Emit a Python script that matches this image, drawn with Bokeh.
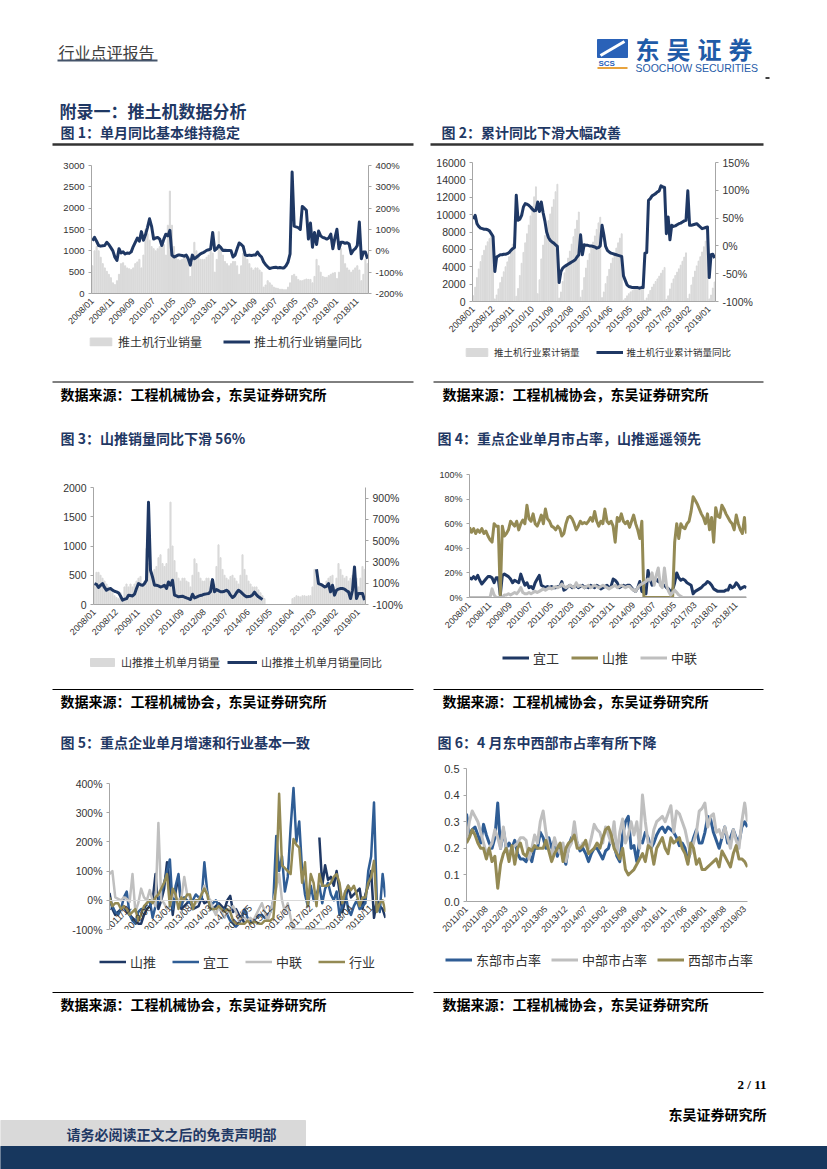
import math
from bokeh.plotting import figure
from bokeh.models import Range1d, LinearAxis, FixedTicker, PrintfTickFormatter, Legend, LegendItem
from bokeh.layouts import column, row
from bokeh.embed import file_html
from bokeh.resources import INLINE
from bokeh.core.properties import value

nan = float("nan")

# ---------------- DATA ----------------
labels_10 = ["2008/01", "2008/11", "2009/09", "2010/07", "2011/05", "2012/03", "2013/01",
             "2013/11", "2014/09", "2015/07", "2016/05", "2017/03", "2018/01", "2018/11"]
labels_11 = ["2008/01", "2008/12", "2009/11", "2010/10", "2011/09", "2012/08", "2013/07",
             "2014/06", "2015/05", "2016/04", "2017/03", "2018/02", "2019/01"]
labels_c5 = ["2011/04", "2011/11", "2012/06", "2013/01", "2013/08", "2014/03", "2014/10",
             "2015/05", "2015/12", "2016/07", "2017/02", "2017/09", "2018/04", "2018/11"]
labels_c6 = ["2011/01", "2011/08", "2012/03", "2012/10", "2013/05", "2013/12", "2014/07", "2015/02",
             "2015/09", "2016/04", "2016/11", "2017/06", "2018/01", "2018/08", "2019/03"]

# Chart 1: industry monthly sales (units) and YoY (%)
c1_sales = [650, 1000, 1100, 1000, 850, 700, 600, 520, 450, 370, 250, 210,
            300, 450, 700, 720, 650, 600, 580, 560, 600, 700, 740, 800,
            600, 900, 1500, 1400, 1250, 1100, 1050, 1000, 1050, 1100, 1100, 1150,
            900, 1600, 2400, 1600, 1100, 900, 800, 780, 800, 850, 900, 870,
            400, 700, 1200, 1000, 900, 800, 800, 800, 850, 900, 1000, 950,
            500, 800, 1450, 1100, 900, 750, 700, 650, 700, 750, 750, 650,
            450, 650, 950, 850, 800, 700, 600, 550, 600, 600, 550, 500,
            150, 200, 300, 250, 200, 150, 130, 120, 100, 100, 90, 90,
            150, 250, 420, 450, 400, 330, 300, 300, 320, 340, 330, 330,
            250, 400, 800, 650, 500, 400, 380, 380, 420, 450, 480, 490,
            350, 500, 1050, 900, 700, 600, 550, 500, 550, 600, 650, 550,
            300, 450, 800, 700]
c1_yoy = [47, 63, 45, 25, 22, 24, 25, 40, 30, 15, 0, -30,
          -45, 10, -10, -5, -15, -10, -12, -5, 20, 40, 60, 45,
          90, 50, 75, 110, 150, 115, 55, 60, 63, 55, 25, 55,
          78, 70, 96, -20, -29, -25, -20, -20, -22, -25, -20, -37,
          -67, -20, -37, -30, -22, -14, -10, -5, 2, 5, 9, 86,
          2, 10, 25, 15, 2, 3, 2, 2, 0, -29, -20, 10,
          37, 30, 20, -20, -22, -20, -22, -20, -20, -6, -20, -29,
          -52, -65, -75, -83, -80, -78, -77, -80, -78, -80, -80, -70,
          -52, -14, 369, 116, 112, 109, 100, 208, 200, 190, 55, 130,
          17, 86, 30, 93, 70, 63, 60, 55, 60, 78, 10, 60,
          101, 10, 40, 40, 35, 38, 32, -14, 2, 10, 25, 135,
          -37, -6, -6, -37]

# Chart 2: cumulative sales (units) and cumulative YoY (%)
c2_cum = [650, 1650, 2750, 3750, 4600, 5300, 5900, 6420, 6870, 7240, 7490, 7700,
          300, 750, 1450, 2170, 2820, 3420, 4000, 4560, 5160, 5860, 6600, 7400,
          600, 1500, 3000, 4400, 5650, 6750, 7800, 8800, 9850, 10950, 12050, 13200,
          900, 2500, 4900, 6500, 7600, 8500, 9300, 10080, 10880, 11730, 12630, 13500,
          400, 1100, 2300, 3300, 4200, 5000, 5800, 6600, 7450, 8350, 9350, 10300,
          500, 1300, 2750, 3850, 4750, 5500, 6200, 6850, 7550, 8300, 9050, 9700,
          450, 1100, 2050, 2900, 3700, 4400, 5000, 5550, 6150, 6750, 7300, 7800,
          150, 350, 650, 900, 1100, 1250, 1380, 1500, 1600, 1700, 1790, 1880,
          150, 400, 820, 1270, 1670, 2000, 2300, 2600, 2920, 3260, 3590, 3920,
          250, 650, 1450, 2100, 2600, 3000, 3380, 3760, 4180, 4630, 5110, 5600,
          350, 850, 1900, 2800, 3500, 4100, 4650, 5150, 5700, 6300, 6950, 7500,
          300, 750, 1550, 2250]
c2_yoy = [48, 55, 40, 35, 32, 31, 30, 30, 29, 27, 22, 17,
          -46, -20, -18, -16, -16, -15, -15, -14, -12, -8, -5, -3,
          91, 46, 48, 55, 70, 76, 75, 73, 70, 66, 63, 64,
          79, 62, 79, 60, 45, 25, 15, 10, 7, 5, 2, -1,
          -66, -46, -40, -37, -35, -33, -31, -29, -27, -25, -20, -16,
          20, -16, 2, 1, 1, 0, 0, -1, -2, -4, -3, 0,
          37, 20, -1, -8, -11, -13, -14, -15, -16, -17, -18, -19,
          -54, -62, -70, -73, -74, -75, -75, -75, -75, -76, -75, -75,
          -13, -12, 82, 85, 90, 92, 94, 97, 99, 108, 106, 105,
          22, 52, 11, 37, 35, 36, 38, 40, 41, 43, 45, 46,
          99, 37, 37, 38, 39, 40, 37, 34, 31, 32, 33, 34,
          -57, -16, -15, -22]

# Chart 3: Shantui monthly sales (units) and YoY (%)
c3_sales = [350, 550, 550, 500, 450, 400, 350, 300, 250, 200, 150, 120,
            100, 200, 100, 300, 350, 300, 350, 300, 350, 400, 450, 480,
            350, 400, 960, 700, 600, 550, 600, 650, 800, 850, 700, 650,
            700, 950, 1750, 1000, 750, 550, 450, 400, 450, 450, 400, 380,
            300, 500, 780, 700, 550, 450, 400, 400, 450, 450, 400, 350,
            350, 650, 1020, 800, 600, 500, 450, 420, 480, 500, 450, 400,
            350, 500, 850, 600, 500, 400, 350, 300, 300, 300, 250, 200,
            150, 100, 0, 0, 0, 0, 0, 0, 0, 0, 0, 0,
            0, 0, 0, 100, 120, 150, 140, 130, 150, 150, 140, 150,
            150, 300, 600, 500, 400, 350, 350, 300, 400, 450, 480, 500,
            300, 450, 700, 600, 500, 450, 480, 400, 450, 500, 480, 450,
            300, 450, 650, 600]
c3_yoy = [97, 90, 60, 80, 97, 60, 34, 45, 50, 35, 25, 19,
          10, -20, -59, -50, -45, -12, -15, -20, -3, 50, 97, 85,
          80, 97, 128, 862, 222, 160, 81, 81, 75, 65, 70, 81,
          50, 112, 81, 128, -12, -20, -28, -25, -22, -30, -38, -45,
          -53, -3, -38, -30, -22, -15, -10, -3, 0, 3, 20, 134,
          19, 40, 30, 20, 19, 25, 34, 20, -12, -34, -20, 10,
          34, 20, 3, -15, -28, -25, -22, -10, 16, -10, -28, -40,
          -53, nan, nan, nan, nan, nan, nan, nan, nan, nan, nan, nan,
          nan, nan, nan, nan, nan, nan, nan, nan, nan, nan, nan, nan,
          nan, nan, nan, 231, 97, 90, 80, 65, 70, 97, 19, 81,
          -12, 34, 45, 50, 50, 45, 30, 19, -44, 34, 253, -44,
          3, 3, 3, -59]

# Chart 4: market share (%) of key companies
c4_yigong = [16, 15, 17, 15, 18, 14, 11, 13, 15, 17, 17, 16,
             12, 16, 16, 2, 18, 19, 18, 17, 15, 12, 14, 13,
             12, 19, 14, 10, 12, 8, 9, 7, 12, 15, 18, 10,
             9, 8, 9, 8, 9, 8, 8, 9, 9, 13, 6, 7,
             9, 10, 8, 9, 10, 8, 9, 10, 8, 9, 8, 10,
             9, 8, 10, 9, 7, 8, 9, 10, 8, 9, 15, 14,
             12, 8, 9, 10, 9, 10, 10, 8, 6, 5, 8, 13,
             5, 4, 3, 22, 15, 10, 12, 15, 13, 12, 10, 10,
             8, 7, 5, 6, 12, 20, 16, 14, 15, 14, 12, 11,
             10, 3, 5, 6, 7, 8, 10, 11, 13, 12, 10, 7,
             6, 5, 5, 5, 5, 6, 6, 10, 8, 9, 12, 10,
             7, 8, 9, 8]
c4_shantui = [57, 53, 56, 52, 55, 53, 56, 52, 54, 50, 47, 45,
              60, 58, 58, 2, 58, 50, 52, 55, 62, 60, 58, 62,
              55, 60, 63, 60, 75, 64, 62, 68, 60, 58, 62, 67,
              60, 72, 64, 62, 58, 57, 55, 58, 56, 50, 52, 60,
              65, 66, 64, 60, 55, 58, 62, 60, 61, 60, 62, 65,
              62, 70, 62, 58, 62, 60, 72, 62, 60, 62, 58, 45,
              65, 62, 68, 62, 60, 62, 57, 62, 67, 60, 55, 48,
              62, 0, 0, 0, 0, 0, 0, 0, 0, 0, 0, 0,
              0, 0, 0, 0, 45, 60, 48, 60, 57, 56, 60, 62,
              70, 82, 79, 76, 72, 68, 65, 60, 68, 55, 65, 45,
              73, 66, 65, 75, 72, 68, 65, 62, 60, 55, 67, 60,
              55, 52, 65, 52]
c4_zoomlion = [0, 0, 0, 0, 0, 0, 0, 0, 0, 0, 0, 7,
               2, 0, 0, 0, 0, 2, 2, 3, 2, 3, 4, 3,
               5, 8, 4, 3, 3, 4, 3, 4, 5, 4, 5, 6,
               7, 6, 7, 8, 7, 8, 9, 8, 9, 11, 9, 8,
               9, 10, 9, 8, 12, 9, 10, 9, 8, 9, 10, 8,
               9, 10, 9, 8, 9, 10, 9, 8, 7, 8, 9, 10,
               8, 9, 10, 9, 8, 9, 9, 7, 6, 5, 8, 10,
               11, 12, 13, 15, 14, 20, 10, 18, 24, 10, 8, 24,
               10, 5, 2, 4, 6, 4, 2, 1, 0, 0, 0, 0,
               0, 0, 0, 0, 0, 0, 0, 0, 0, 0, 0, 0,
               0, 0, 0, 0, 0, 0, 0, 0, 0, 0, 0, 0,
               0, 0, 0, 0]

# Chart 5: monthly YoY growth (%) 2011/04 - 2019/04
c5_shantui = [25, -30, -50, -40, -30, -20, -40, -50, -60, -70, -80, -80,
              -50, -30, -20, 0, 90, -30, 0, 40, 130, 50, -50, 30,
              80, -30, -20, -10, 0, -30, -25, -20, 10, -10, -5, 0,
              -30, -20, -10, -20, -30, 0, 15, -40, -30, -50, -60, -80,
              nan, nan, nan, nan, nan, nan, nan, nan, nan, nan, nan, nan,
              nan, nan, nan, nan, nan, nan, nan, nan, nan, nan, nan, nan,
              nan, 215, 50, 120, 70, 80, 50, 100, 30, -40, 0, 50,
              10, 20, 30, 40, -30, 20, 50, 100, -60, 0, -20, -30,
              -60]
c5_yigong = [0, -20, -40, -50, -30, 10, 30, -50, -70, -80, -40, -30,
             -30, -10, 0, -60, -20, 0, 20, 60, 100, 140, -30, 50,
             90, -20, 10, 0, -10, 0, 20, 10, 0, 130, 30, -20,
             -10, 0, -20, -40, -30, -50, -70, -80, -90, -80, -60, -30,
             -60, -70, -70, -60, -50, -50, -60, -50, -40, 0, 220, 100,
             150, 30, 80, 250, 385, 200, 270, 100, 20, -20, 50, 0,
             20, 50, -10, 40, 60, 20, 0, 30, -50, -20, 30, -30,
             -50, -20, 0, -30, -20, -10, 100, 150, 335, -10, -40, 90,
             10]
c5_zoomlion = [90, 100, 10, 5, 0, 10, 5, -5, 90, -40, -10, 40,
               10, 0, 35, 0, -20, 265, 0, -10, -30, -20, 20, 10,
               0, 10, 80, 20, 10, -20, -10, 0, 20, 50, 20, 0,
               -30, -50, -20, -40, -60, -40, -30, -20, -40, -70, -60, -60,
               -70, -60, -70, -50, -30, -10, -40, -70, -40, 0, 40, 90,
               0, -40, -10, -60, -100, -100, -100, -100, -100, -100, -100, -100,
               -100, -100, -100, -100, nan, nan, nan, nan, nan, nan, nan, nan,
               nan, nan, nan, nan, nan, nan, nan, nan, nan, nan, nan, nan,
               nan]
c5_industry = [10, -20, -10, -10, -30, -20, -30, -50, -40, -30, -70, -50,
               -20, -10, 0, -10, 10, 20, 40, 60, 90, -20, 40, 20,
               -30, 10, 0, 20, 20, -30, 0, 0, 20, 40, 20, -30,
               -30, -30, -20, -30, -40, -30, -40, -70, -80, -80, -80, -80,
               -70, -80, -75, -75, -80, -80, -70, -70, -70, -60, 60, 365,
               120, 110, 100, 90, 210, 190, 180, 60, 130, -20, 90, 60,
               -20, 90, 50, 50, 50, 60, 80, 90, 60, -10, 30, 50,
               35, 50, 20, -20, 10, 10, 60, 80, 135, -40, -10, 0,
               -40]

# Chart 6: regional market share 2011/01 - 2019/04
c6_east = [0.33, 0.25, 0.27, 0.28, 0.25, 0.22, 0.29, 0.25, 0.22, 0.20,
           0.24, 0.37, 0.20, 0.27, 0.20, 0.22, 0.20, 0.23, 0.18, 0.16,
           0.16, 0.15, 0.18, 0.15, 0.20, 0.20, 0.26, 0.24, 0.20, 0.24,
           0.20, 0.23, 0.17, 0.20, 0.17, 0.14, 0.21, 0.24, 0.25, 0.22,
           0.19, 0.20, 0.18, 0.15, 0.18, 0.20, 0.20, 0.18, 0.16, 0.19,
           0.20, 0.24, 0.21, 0.17, 0.15, 0.25, 0.30, 0.32, 0.20, 0.21,
           0.15, 0.23, 0.22, 0.26, 0.24, 0.20, 0.22, 0.25, 0.27, 0.28,
           0.26, 0.28, 0.27, 0.26, 0.24, 0.21, 0.22, 0.20, 0.15, 0.20,
           0.24, 0.27, 0.22, 0.22, 0.26, 0.32, 0.31, 0.26, 0.23, 0.20,
           0.24, 0.28, 0.22, 0.24, 0.27, 0.24, 0.22, 0.28, 0.30, 0.28]
c6_central = [0.23, 0.30, 0.34, 0.32, 0.30, 0.26, 0.22, 0.18, 0.20, 0.22,
              0.27, 0.24, 0.20, 0.28, 0.20, 0.18, 0.20, 0.21, 0.22, 0.24,
              0.24, 0.23, 0.16, 0.20, 0.25, 0.22, 0.30, 0.34, 0.26, 0.20,
              0.17, 0.24, 0.20, 0.18, 0.22, 0.15, 0.20, 0.22, 0.30, 0.22,
              0.20, 0.22, 0.21, 0.20, 0.24, 0.29, 0.27, 0.26, 0.22, 0.28,
              0.25, 0.22, 0.30, 0.18, 0.26, 0.31, 0.22, 0.25, 0.30, 0.25,
              0.30, 0.20, 0.40, 0.30, 0.22, 0.20, 0.27, 0.30, 0.31, 0.32,
              0.30, 0.33, 0.36, 0.26, 0.34, 0.33, 0.30, 0.27, 0.22, 0.18,
              0.22, 0.26, 0.34, 0.35, 0.37, 0.28, 0.32, 0.33, 0.26, 0.27,
              0.24, 0.28, 0.24, 0.20, 0.27, 0.23, 0.20, 0.30, 0.37, 0.30]
c6_west = [0.22, 0.24, 0.27, 0.25, 0.22, 0.20, 0.20, 0.16, 0.20, 0.15,
           0.17, 0.05, 0.14, 0.18, 0.20, 0.15, 0.21, 0.14, 0.20, 0.22,
           0.18, 0.17, 0.20, 0.19, 0.21, 0.20, 0.20, 0.20, 0.23, 0.19,
           0.15, 0.18, 0.20, 0.22, 0.15, 0.20, 0.22, 0.23, 0.25, 0.20,
           0.20, 0.21, 0.23, 0.18, 0.19, 0.20, 0.22, 0.20, 0.24, 0.27,
           0.28, 0.25, 0.20, 0.18, 0.16, 0.20, 0.12, 0.10, 0.11, 0.12,
           0.14, 0.16, 0.18, 0.15, 0.21, 0.20, 0.14, 0.20, 0.22, 0.24,
           0.20, 0.18, 0.24, 0.22, 0.23, 0.24, 0.20, 0.18, 0.14, 0.22,
           0.20, 0.14, 0.16, 0.12, 0.12, 0.13, 0.14, 0.15, 0.16, 0.13,
           0.19, 0.17, 0.15, 0.13, 0.18, 0.21, 0.16, 0.16, 0.15, 0.13]

# ---------------- STYLE ----------------
CJK = "Noto Sans CJK SC"
NUM = "Liberation Sans"
NAVY = "#1f3864"
OLIVE = "#948a54"
LGRAY = "#bfbfbf"
BLUE = "#2f5d95"
BAR = "#d9d9d9"
AXIS = "#a6a6a6"
TXT = "#333333"
TITLE = "#1f3864"
PAGE_W = 827
LW, RW = 425, 402  # column widths


def fit(arr, n):
    arr = list(arr)[:n]
    return arr + [nan] * (n - len(arr))


def no_align(p):
    try:
        p.frame_align = False
    except Exception:
        pass


def chart_fig(w, h, left, right, top, bottom, xr, yr):
    p = figure(width=w, height=h, x_range=xr, y_range=yr,
               x_axis_type=None, y_axis_type=None,
               toolbar_location=None, output_backend="svg",
               min_border_left=left, min_border_right=right,
               min_border_top=top, min_border_bottom=bottom)
    p.outline_line_color = None
    p.background_fill_color = "white"
    p.border_fill_color = "white"
    no_align(p)
    return p


def style_axis(ax, fs):
    ax.axis_line_color = AXIS
    ax.axis_line_width = 1
    ax.major_tick_line_color = AXIS
    ax.major_tick_in = 0
    ax.major_tick_out = 3
    ax.minor_tick_line_color = None
    ax.major_label_text_font = NUM
    ax.major_label_text_font_size = fs
    ax.major_label_text_color = TXT
    ax.major_label_standoff = 4


def add_x(p, ticks, labels, fs="9px", fixed=None, line_color=AXIS):
    ax = LinearAxis(ticker=FixedTicker(ticks=ticks),
                    major_label_overrides={t: l for t, l in zip(ticks, labels)})
    style_axis(ax, fs)
    ax.axis_line_color = line_color
    ax.major_tick_line_color = None
    ax.major_label_orientation = math.pi / 4
    ax.major_label_standoff = 3
    if fixed is not None:
        ax.fixed_location = fixed
    p.add_layout(ax, "below")
    return ax


def add_y(p, side, ticks, fmt, fs, rname="default"):
    ax = LinearAxis(ticker=FixedTicker(ticks=ticks), formatter=PrintfTickFormatter(format=fmt),
                    y_range_name=rname)
    style_axis(ax, fs)
    p.add_layout(ax, side)
    return ax


def legend_strip(w, h, specs, vx, center, fs, spacing, gw=27):
    """A thin figure that only holds the legend of the chart above it.
    Its frame starts at the legend's left edge and is centred on the legend row."""
    fh = 2 * min(center, h - center)
    top = int(round(center - fh / 2))
    bottom = int(round(h - center - fh / 2))
    s = figure(width=w, height=h, x_range=Range1d(0, 1), y_range=Range1d(0, 1),
               x_axis_type=None, y_axis_type=None, toolbar_location=None,
               output_backend="svg", min_border_left=vx, min_border_right=0,
               min_border_top=top, min_border_bottom=bottom)
    s.outline_line_color = None
    s.background_fill_color = "white"
    s.border_fill_color = "white"
    no_align(s)
    items = []
    for label, kind, color, lw in specs:
        if kind == "bar":
            r = s.vbar(x=[nan], top=[nan], width=0.5, color=color)
        else:
            r = s.line(x=[nan], y=[nan], line_color=color, line_width=lw)
        items.append(LegendItem(label=value(label), renderers=[r]))
    lg = Legend(items=items, orientation="horizontal", location="center_left", padding=0, margin=0,
                spacing=spacing, glyph_width=gw, glyph_height=10, label_standoff=4,
                label_height=12, label_text_font=CJK, label_text_font_size=fs,
                label_text_color=TXT, border_line_color=None, background_fill_alpha=0)
    s.add_layout(lg)
    return s


def block(h, y0):
    p = figure(width=PAGE_W, height=h, x_range=Range1d(0, PAGE_W), y_range=Range1d(y0 + h, y0),
               x_axis_type=None, y_axis_type=None, toolbar_location=None,
               output_backend="svg", min_border=0)
    p.outline_line_color = None
    p.background_fill_color = "white"
    p.border_fill_color = "white"
    no_align(p)
    return p


def put_text(p, x, y, s, size, color="#000000", bold=False, font=CJK, align="left"):
    p.text(x=[x], y=[y], text=[s], text_font=value(font), text_font_size=size,
           text_font_style="bold" if bold else "normal", text_color=color,
           text_align=align, text_baseline="middle")


def hline(p, x0, x1, y, color="#000000", w=1.0):
    p.segment(x0=[x0], y0=[y], x1=[x1], y1=[y], line_color=color, line_width=w)


SRC = "数据来源：工程机械协会，东吴证券研究所"

# ---------------- HEADER (y 0..150) ----------------
hdr = block(150, 0)
put_text(hdr, 58, 51, "行业点评报告", "16px", color="#404040")
hline(hdr, 57, 157, 60, color="#44546a", w=2)
hdr.quad(left=[597], right=[627], top=[39], bottom=[57], color="#2a62b8")
hdr.segment(x0=[600], y0=[55], x1=[624], y1=[41], line_color="white", line_width=3)
put_text(hdr, 598, 62.5, "SCS", "8px", color="#2a62b8", bold=True, font=NUM)
hline(hdr, 597, 627, 67.5, color="#e8a33d", w=2)
hdr.text(x=[635, 666, 697, 728], y=[48] * 4, text=["东", "吴", "证", "券"], text_font=value(CJK),
         text_font_size="24px", text_font_style="bold", text_color="#1f5ba8",
         text_baseline="middle", text_align="left")
put_text(hdr, 635, 67, "SOOCHOW SECURITIES", "10.5px", color="#1f5ba8", font=NUM)
hline(hdr, 765, 769, 77.5, color="#000000", w=1.5)
put_text(hdr, 59, 110, "附录一：推土机数据分析", "17px", color=TITLE, bold=True)
put_text(hdr, 60, 131.5, "图 1：单月同比基本维持稳定", "14px", color=TITLE, bold=True)
put_text(hdr, 441, 131.5, "图 2：累计同比下滑大幅改善", "14px", color=TITLE, bold=True)
hline(hdr, 52, 413, 144, color="#333333", w=2.5)
hline(hdr, 430, 763, 144, color="#333333", w=2.5)

# ---------------- CHART 1 (y 150..332) + legend strip (332..372) ----------------
N1 = 136
x1 = list(range(N1))
p1 = chart_fig(LW, 182, 91, 57, 15, 36, Range1d(-0.5, N1 - 0.5), Range1d(0, 3000))
p1.extra_y_ranges = {"r": Range1d(-200, 400)}
p1.vbar(x=x1, top=fit(c1_sales, N1), width=0.55, color=BAR)
p1.line(x=x1, y=fit(c1_yoy, N1), y_range_name="r", line_color=NAVY, line_width=3, line_join="round")
add_x(p1, list(range(0, 131, 10)), labels_10)
add_y(p1, "left", list(range(0, 3001, 500)), "%d", "9.5px")
add_y(p1, "right", list(range(-200, 401, 100)), "%d%%", "9.5px", "r")
s1 = legend_strip(LW, 40, [("推土机行业销量", "bar", BAR, 1), ("推土机行业销量同比", "line", NAVY, 3)],
                  87, 9, "12px", 21)

# ---------------- CHART 2 (y 150..340) + legend strip (340..372) ----------------
p2 = chart_fig(RW, 190, 47, 112, 12, 38, Range1d(-0.5, N1 - 0.5), Range1d(0, 16000))
p2.extra_y_ranges = {"r": Range1d(-100, 150)}
p2.vbar(x=x1, top=fit(c2_cum, N1), width=0.5, color=BAR)
p2.line(x=x1, y=fit(c2_yoy, N1), y_range_name="r", line_color=NAVY, line_width=3, line_join="round")
add_x(p2, list(range(0, 133, 11)), labels_11)
add_y(p2, "left", list(range(0, 16001, 2000)), "%d", "10.5px")
add_y(p2, "right", list(range(-100, 151, 50)), "%d%%", "10.5px", "r")
s2 = legend_strip(RW, 32, [("推土机行业累计销量", "bar", BAR, 1), ("推土机行业累计销量同比", "line", NAVY, 3)],
                  38, 12, "9.5px", 16)

# ---------------- BAND 1 (y 372..455) ----------------
band1 = block(83, 372)
hline(band1, 52, 413, 381.5)
hline(band1, 433, 763, 381.5)
put_text(band1, 60, 393, SRC, "14px", bold=True)
put_text(band1, 442, 393, SRC, "14px", bold=True)
put_text(band1, 60, 437, "图 3：山推销量同比下滑 56%", "14px", color=TITLE, bold=True)
put_text(band1, 437, 437, "图 4：重点企业单月市占率，山推遥遥领先", "14px", color=TITLE, bold=True)

# ---------------- CHART 3 (y 455..645) + legend strip (645..680) ----------------
p3 = chart_fig(LW, 190, 93, 60, 32, 41, Range1d(-0.5, N1 - 0.5), Range1d(0, 2000))
p3.extra_y_ranges = {"r": Range1d(-100, 1000)}
p3.vbar(x=x1, top=fit(c3_sales, N1), width=0.55, color=BAR)
p3.line(x=x1, y=fit(c3_yoy, N1), y_range_name="r", line_color=NAVY, line_width=3, line_join="round")
add_x(p3, list(range(0, 133, 11)), labels_11)
add_y(p3, "left", list(range(0, 2001, 500)), "%d", "10.5px")
add_y(p3, "right", list(range(-100, 901, 200)), "%d%%", "10.5px", "r")
s3 = legend_strip(LW, 35, [("山推推土机单月销量", "bar", BAR, 1), ("山推推土机单月销量同比", "line", NAVY, 3)],
                  87, 17, "11px", 7, gw=30)

# ---------------- CHART 4 (y 455..640) + legend strip (640..680) ----------------
p4 = chart_fig(RW, 185, 44, 81, 19, 43, Range1d(0, N1 - 1), Range1d(0, 100))
p4.line(x=x1, y=fit(c4_yigong, N1), line_color=NAVY, line_width=3, line_join="round")
p4.line(x=x1, y=fit(c4_shantui, N1), line_color=OLIVE, line_width=3, line_join="round")
p4.line(x=x1, y=fit(c4_zoomlion, N1), line_color=LGRAY, line_width=3, line_join="round")
add_x(p4, list(range(0, 131, 10)), labels_10)
add_y(p4, "left", list(range(0, 101, 20)), "%d%%", "9px")
s4 = legend_strip(RW, 40, [("宜工", "line", NAVY, 3), ("山推", "line", OLIVE, 3), ("中联", "line", LGRAY, 3)],
                  77, 17, "13px", 12)

# ---------------- BAND 2 (y 680..760) ----------------
band2 = block(80, 680)
hline(band2, 52, 413, 689)
hline(band2, 433, 763, 689)
put_text(band2, 60, 700, SRC, "14px", bold=True)
put_text(band2, 442, 700, SRC, "14px", bold=True)
put_text(band2, 60, 741, "图 5：重点企业单月增速和行业基本一致", "14px", color=TITLE, bold=True)
put_text(band2, 437, 741, "图 6：4 月东中西部市占率有所下降", "14px", color=TITLE, bold=True)

# ---------------- CHART 5 (y 760..950) + legend strip (950..985) ----------------
N5 = 97
x5 = list(range(N5))
p5 = chart_fig(LW, 190, 109, 40, 23, 21, Range1d(0, N5 - 1), Range1d(-100, 400))
p5.line(x=x5, y=fit(c5_shantui, N5), line_color=NAVY, line_width=2.5, line_join="round")
p5.line(x=x5, y=fit(c5_yigong, N5), line_color=BLUE, line_width=2.5, line_join="round")
p5.line(x=x5, y=fit(c5_zoomlion, N5), line_color=LGRAY, line_width=2.5, line_join="round")
p5.line(x=x5, y=fit(c5_industry, N5), line_color=OLIVE, line_width=2.5, line_join="round")
add_x(p5, list(range(0, 92, 7)), labels_c5, fs="9.5px", fixed=0, line_color="#d9d9d9")
add_y(p5, "left", list(range(-100, 401, 100)), "%d%%", "10.5px")
s5 = legend_strip(LW, 35, [("山推", "line", NAVY, 2.5), ("宜工", "line", BLUE, 2.5),
                           ("中联", "line", LGRAY, 2.5), ("行业", "line", OLIVE, 2.5)],
                  99, 11, "13px", 16)

# ---------------- CHART 6 (y 760..945) + legend strip (945..985) ----------------
N6 = 100
x6 = list(range(N6))
p6 = chart_fig(RW, 185, 41, 80, 8, 44, Range1d(0, N6 - 1), Range1d(0, 0.5))
p6.line(x=x6, y=fit(c6_east, N6), line_color=BLUE, line_width=3, line_join="round")
p6.line(x=x6, y=fit(c6_central, N6), line_color=LGRAY, line_width=3, line_join="round")
p6.line(x=x6, y=fit(c6_west, N6), line_color=OLIVE, line_width=3, line_join="round")
add_x(p6, list(range(0, 99, 7)), labels_c6)
add_y(p6, "left", [0, 0.1, 0.2, 0.3, 0.4, 0.5], "%.1f", "11px")
s6 = legend_strip(RW, 40, [("东部市占率", "line", BLUE, 3), ("中部市占率", "line", LGRAY, 3),
                           ("西部市占率", "line", OLIVE, 3)],
                  20, 14, "13px", 10)

# ---------------- FOOTER (y 985..1169) ----------------
foot = block(184, 985)
hline(foot, 52, 413, 992)
hline(foot, 433, 763, 992)
put_text(foot, 60, 1003, SRC, "14px", bold=True)
put_text(foot, 442, 1003, SRC, "14px", bold=True)
put_text(foot, 766, 1084, "2 / 11", "13px", bold=True, font="Liberation Serif", align="right")
put_text(foot, 766, 1113, "东吴证券研究所", "14px", bold=True, align="right")
foot.quad(left=[0], right=[305], top=[1120], bottom=[1146], color="#d9d9d9")
foot.quad(left=[0], right=[PAGE_W], top=[1146], bottom=[1169], color="#17375e")
put_text(foot, 66, 1133, "请务必阅读正文之后的免责声明部", "14px", color=TITLE, bold=True)

page = column(hdr,
              row(column(p1, s1), column(p2, s2)),
              band1,
              row(column(p3, s3), column(p4, s4)),
              band2,
              row(column(p5, s5), column(p6, s6)),
              foot)

open("out.html", "w").write(file_html(page, INLINE))
